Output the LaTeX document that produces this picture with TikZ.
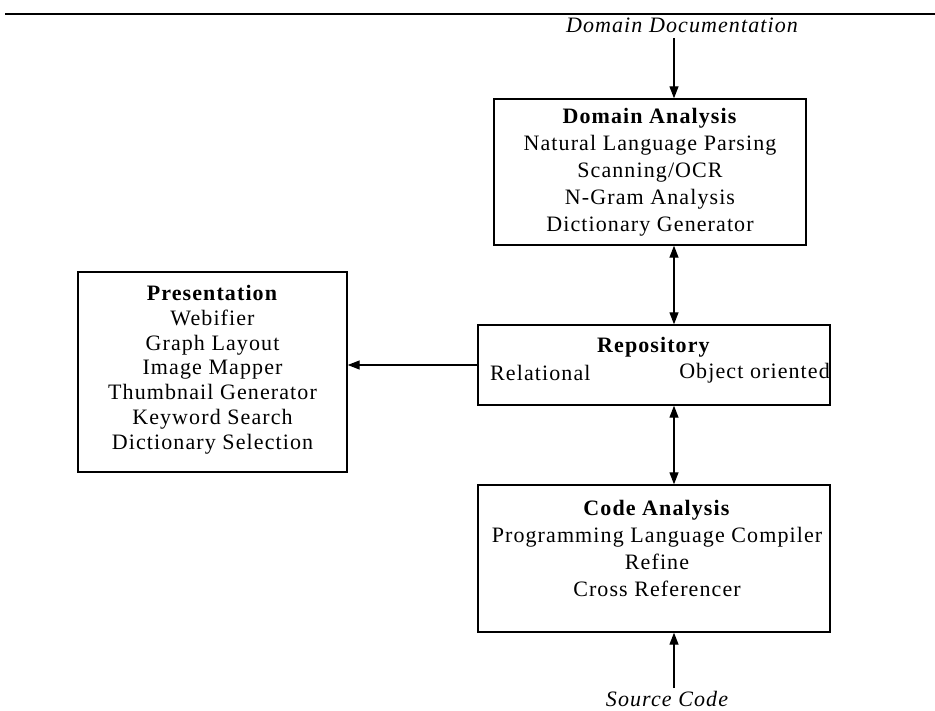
\documentclass[tikz,border=0pt]{standalone}
\usepackage{fontspec}
\setmainfont{Liberation Serif}[LetterSpace=5]
\usetikzlibrary{arrows.meta}
\begin{document}
\begin{tikzpicture}[x=1pt,y=-1pt,
  box/.style={draw,line width=1.4pt,inner sep=0pt},
  txt/.style={font=\fontsize{22}{27}\selectfont,align=center,inner sep=0pt},
  ptxt/.style={font=\fontsize{22}{24.8}\selectfont,align=center,inner sep=0pt},
  itxt/.style={font=\fontsize{22}{27}\selectfont\itshape,inner sep=0pt},
  conn/.style={line width=1.3pt,-{Triangle[length=12pt,width=9pt]}},
  dconn/.style={line width=1.3pt,{Triangle[length=12pt,width=9pt]}-{Triangle[length=12pt,width=9pt]}}]
\useasboundingbox (0,0) rectangle (935,711);
% top rule
\coordinate (r1) at (5,14);
\coordinate (r2) at (935,14);
\draw[line width=2.2pt] (r1) -- (r2);
% boxes
\node[box,minimum width=312pt,minimum height=146pt] (da) at (650,172) {};
\node[box,minimum width=269pt,minimum height=200pt] (pr) at (212.5,372) {};
\node[box,minimum width=352pt,minimum height=80pt] (re) at (654,365) {};
\node[box,minimum width=352pt,minimum height=147pt] (ca) at (654,558.5) {};
% texts
\node[itxt] (dd) at (682,25) {Domain Documentation};
\node[itxt] (sc) at (667,699) {Source Code};
\node[txt,anchor=north] (dat) at (650,108) {\textbf{Domain Analysis}\\Natural Language Parsing\\Scanning/OCR\\N-Gram Analysis\\Dictionary Generator};
\node[ptxt,anchor=north] (prt) at (212.5,285) {\textbf{Presentation}\\Webifier\\Graph Layout\\Image Mapper\\Thumbnail Generator\\Keyword Search\\Dictionary Selection};
\node[txt] (ret) at (654,347) {\textbf{Repository}};
\node[txt,anchor=west] (rel) at (490,373) {Relational};
\node[txt,anchor=east] (oo) at (830,373) {Object oriented};
\node[txt,anchor=north] (cat) at (657,500) {\textbf{Code Analysis}\\Programming Language Compiler\\Refine\\Cross Referencer};
% connectors
\coordinate (ddb) at (674,38);
\coordinate (scb) at (674,688);
\draw[conn] (ddb) -- (ddb |- da.north);
\draw[dconn] (674,0 |- da.south) -- (674,0 |- re.north);
\draw[dconn] (674,0 |- re.south) -- (674,0 |- ca.north);
\draw[conn] (scb) -- (scb |- ca.south);
\draw[conn] (re.west) -- (re.west -| pr.east);
\end{tikzpicture}
\end{document}
